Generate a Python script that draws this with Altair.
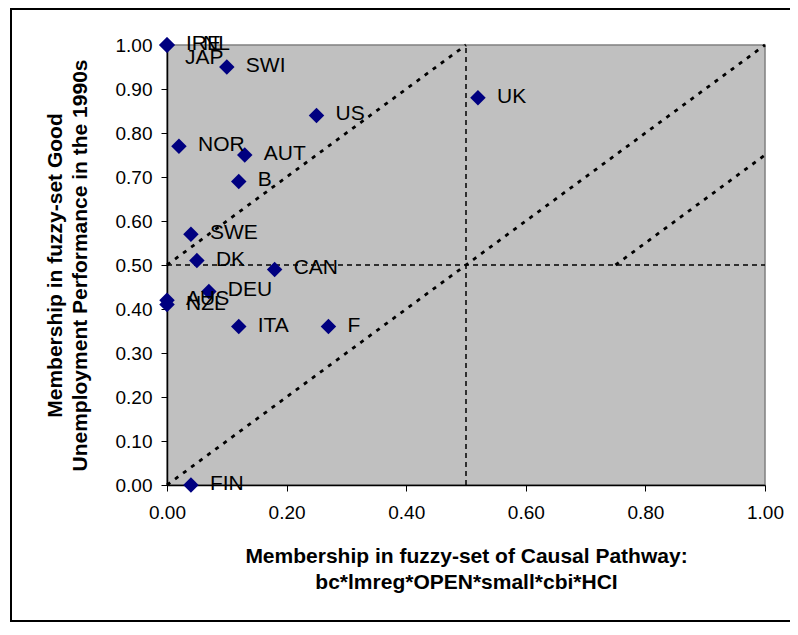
import altair as alt
import pandas as pd

# ---- data ----
countries = ["IRE", "NL", "JAP", "SWI", "US", "UK", "NOR", "AUT", "B", "SWE",
             "DK", "CAN", "DEU", "AUS", "NZL", "ITA", "F", "FIN"]
pathway = [0.00, 0.00, 0.00, 0.10, 0.25, 0.52, 0.02, 0.13, 0.12, 0.04,
           0.05, 0.18, 0.07, 0.00, 0.00, 0.12, 0.27, 0.04]
performance = [1.00, 1.00, 1.00, 0.95, 0.84, 0.88, 0.77, 0.75, 0.69, 0.57,
               0.51, 0.49, 0.44, 0.42, 0.41, 0.36, 0.36, 0.00]

# reference lines (diagonals dotted, 0.5 crossings dashed)
ref_kind = ["dot", "dot", "dot", "dash", "dash"]
ref_x1 = [0.00, 0.00, 0.75, 0.00, 0.50]
ref_y1 = [0.50, 0.00, 0.50, 0.50, 0.00]
ref_x2 = [0.50, 1.00, 1.00, 1.00, 0.50]
ref_y2 = [1.00, 1.00, 0.75, 0.50, 1.00]

x_ticks = [0.0, 0.2, 0.4, 0.6, 0.8, 1.0]
y_ticks = [0.0, 0.1, 0.2, 0.3, 0.4, 0.5, 0.6, 0.7, 0.8, 0.9, 1.0]

x_title = ["Membership in fuzzy-set of Causal Pathway:", "bc*lmreg*OPEN*small*cbi*HCI"]
y_title = ["Membership in fuzzy-set Good", "Unemployment Performance in the 1990s"]

pts = pd.DataFrame({"country": countries, "x": pathway, "y": performance})
refs = pd.DataFrame({"kind": ref_kind, "x": ref_x1, "y": ref_y1, "x2": ref_x2, "y2": ref_y2})

FONT = "Liberation Sans"

xscale = alt.Scale(domain=[0, 1], nice=False, zero=False, padding=0)
yscale = alt.Scale(domain=[0, 1], nice=False, zero=False, padding=0)

xaxis = alt.Axis(values=x_ticks, format=".2f", title=x_title, grid=False,
                 labelFlush=False, labelOverlap=False,
                 labelFont=FONT, labelFontSize=19, labelColor="black",
                 tickColor="black", tickSize=6, domainColor="black", domainWidth=1.5,
                 labelPadding=12, titleFont=FONT, titleFontSize=21,
                 titleFontWeight="bold", titleColor="black", titlePadding=23,
                 titleLineHeight=26)
yaxis = alt.Axis(values=y_ticks, format=".2f", title=y_title, grid=False,
                 labelFlush=False, labelOverlap=False,
                 labelFont=FONT, labelFontSize=19, labelColor="black",
                 tickColor="black", tickSize=6, domainColor="black", domainWidth=1.5,
                 labelPadding=9, titleFont=FONT, titleFontSize=21,
                 titleFontWeight="bold", titleColor="black", titlePadding=25,
                 titleLineHeight=25)

X = alt.X("x:Q", scale=xscale, axis=xaxis)
Y = alt.Y("y:Q", scale=yscale, axis=yaxis)

base = alt.Chart(pts)

dotted = alt.Chart(refs).transform_filter(alt.datum.kind == "dot").mark_rule(
    color="black", strokeWidth=2.8, strokeDash=[4, 6]
).encode(x=X, y=Y, x2="x2:Q", y2="y2:Q")

dashed = alt.Chart(refs).transform_filter(alt.datum.kind == "dash").mark_rule(
    color="black", strokeWidth=1.5, strokeDash=[5, 4]
).encode(x=X, y=Y, x2="x2:Q", y2="y2:Q")

points = base.mark_point(shape="diamond", filled=True, color="#000080",
                         size=240, opacity=1).encode(x=X, y=Y)

label_style = dict(font=FONT, fontSize=21, color="black", align="left", baseline="middle")
labels = base.transform_filter(
    (alt.datum.country != "JAP") & (alt.datum.country != "NL")
).mark_text(dx=19, dy=-1, **label_style).encode(x=X, y=Y, text="country:N")

label_jap = base.transform_filter(alt.datum.country == "JAP").mark_text(
    dx=18, dy=13, **label_style).encode(x=X, y=Y, text="country:N")

label_nl = base.transform_filter(alt.datum.country == "NL").mark_text(
    dx=36, dy=-1, **label_style).encode(x=X, y=Y, text="country:N")

frame = alt.Chart(alt.Data(values=[{}])).mark_rect(
    filled=False, stroke="black", strokeWidth=2
).encode(
    x=alt.value(-156), x2=alt.value(700), y=alt.value(-36), y2=alt.value(576)
)

chart = alt.layer(dotted, dashed, points, labels, label_jap, label_nl, frame).properties(
    width=598, height=440,
    autosize=alt.AutoSizeParams(type="none"),
    padding={"left": 159, "top": 37, "right": 25, "bottom": 138},
    background="white",
).configure_view(
    fill="#C0C0C0", stroke="#808080", strokeWidth=1.5
)

chart.save("out.html", embed_options={"renderer": "svg", "actions": False})
